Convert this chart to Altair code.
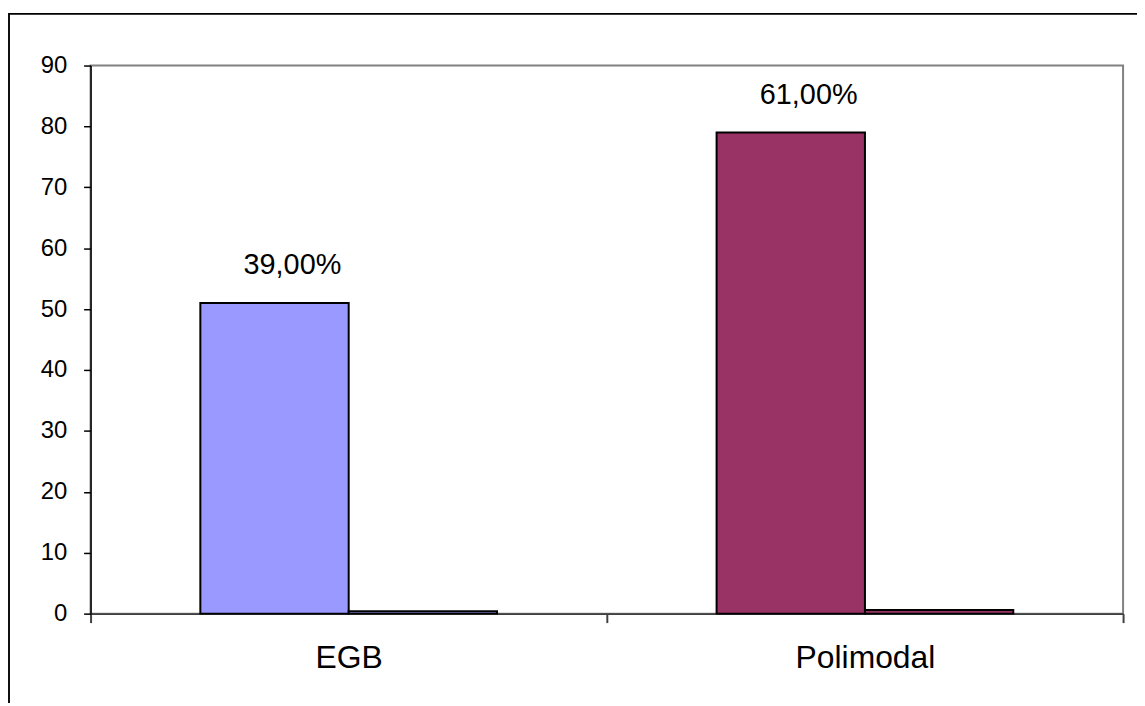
import altair as alt
import pandas as pd

categories = ["EGB", "Polimodal"]
series = ["Cantidad", "Porcentaje"]
main_values = [51, 79]
share_values = [0.39, 0.61]
share_labels = ["39,00%", "61,00%"]
colors = ["#9999FF", "#993366"]
y_ticks = [0, 10, 20, 30, 40, 50, 60, 70, 80, 90]

rows = []
for c, v, s in zip(categories, main_values, share_values):
    rows.append({"categoria": c, "serie": series[0], "valor": v})
    rows.append({"categoria": c, "serie": series[1], "valor": s})
df = pd.DataFrame(rows)

df_lab = pd.DataFrame({
    "categoria": categories,
    "serie": [series[0]] * len(categories),
    "valor": main_values,
    "etiqueta": share_labels,
})

FONT = "Liberation Sans"

x_enc = alt.X(
    "categoria:N", sort=categories,
    scale=alt.Scale(paddingInner=0, paddingOuter=0),
    axis=alt.Axis(title=None, labelAngle=0, tickBand="extent", labelFontSize=32,
                  labelFont=FONT, labelColor="black", domainColor="#404040",
                  domainWidth=2, tickColor="#404040", tickWidth=2, tickSize=9,
                  labelPadding=20, grid=False),
)
xoff_enc = alt.XOffset("serie:N", sort=series,
                       scale=alt.Scale(paddingInner=0, paddingOuter=0.74))
y_enc = alt.Y(
    "valor:Q",
    scale=alt.Scale(domain=[0, 90], nice=False, zero=True),
    axis=alt.Axis(title=None, values=y_ticks, grid=False, labelFontSize=24,
                  labelFont=FONT, labelColor="black", domainColor="black",
                  domainWidth=1.5, tickColor="black", tickWidth=1.5, tickSize=7,
                  labelPadding=17),
)

bars = alt.Chart(df).mark_bar(stroke="black", strokeWidth=2).encode(
    x=x_enc,
    xOffset=xoff_enc,
    y=y_enc,
    color=alt.Color("categoria:N", scale=alt.Scale(domain=categories, range=colors),
                    legend=None),
)

labels = alt.Chart(df_lab).mark_text(
    font=FONT, fontSize=29, color="black", baseline="alphabetic", dx=18, dy=-29
).encode(
    x=alt.X("categoria:N", sort=categories),
    xOffset=alt.XOffset("serie:N", sort=series),
    y=alt.Y("valor:Q"),
    text="etiqueta:N",
)

frame = alt.Chart(df_lab).mark_rect(
    filled=False, stroke="black", strokeWidth=1.5
).encode(
    x=alt.value(-82), x2=alt.value(1100), y=alt.value(-52), y2=alt.value(700)
)

chart = alt.layer(frame, bars, labels).properties(
    width=1038, height=551,
    autosize=alt.AutoSizeParams(type="none"),
    padding={"left": 83, "top": 56, "right": 14, "bottom": 88},
    background="white",
).configure_view(stroke="#808080", strokeWidth=2)

chart.save("out.html", embed_options={"renderer": "svg", "actions": False})
